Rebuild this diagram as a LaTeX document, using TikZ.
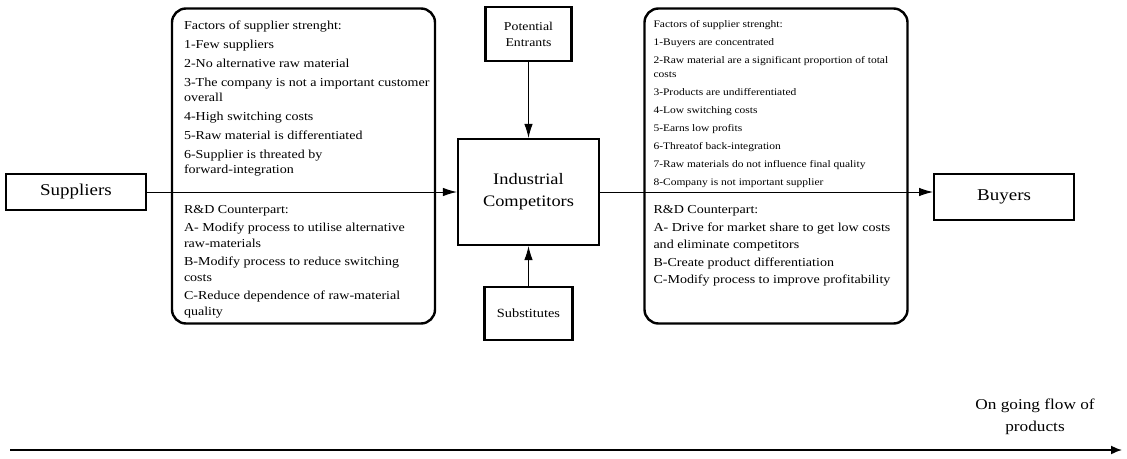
\documentclass[tikz,border=0pt]{standalone}
\usepackage{fontspec}
\setmainfont{Liberation Serif}[FakeStretch=1.15]
\usepackage{tikz}
\usetikzlibrary{arrows.meta, positioning}

\begin{document}
\begin{tikzpicture}[
    force/.style={rectangle, draw, line width=2.1pt, align=center},
    panel/.style={rectangle, draw, line width=2.4pt, rounded corners=14pt, minimum width=263pt, minimum height=315pt},
    listtext/.style={inner sep=0pt, align=left},
    arrow/.style={line width=1pt, -{Latex[length=14pt,width=8.5pt]}}
  ]
  \useasboundingbox (0,0) rectangle (1127pt,-458pt);

  % the five forces
  \node (comp) [force, minimum width=141pt, minimum height=106pt, font=\fontsize{16}{22}\selectfont] at (528.5pt,-192pt) {Industrial\\Competitors};
  \node (pot) [force, minimum width=86pt, minimum height=54pt, font=\fontsize{12}{16}\selectfont, above=76pt of comp] {Potential\\Entrants};
  \node (subs) [force, minimum width=88pt, minimum height=53pt, font=\fontsize{12.5}{15}\selectfont, below=40pt of comp] {Substitutes};
  \node (sup) [force, minimum width=140pt, minimum height=36pt, font=\fontsize{16.5}{20}\selectfont, left=310pt of comp] {Suppliers};
  \node (buy) [force, minimum width=140pt, minimum height=46pt, font=\fontsize{16.5}{20}\selectfont, right=333pt of comp, yshift=-5pt] {Buyers};

  % factor panels
  \node (supbox) [panel] at (303.5pt,-166pt) {};
  \node (buybox) [panel] at (776pt,-166pt) {};

  \node (supstr) [listtext, font=\fontsize{12.2}{15}\selectfont, below right=13pt and 13pt of supbox.north west] {Factors of supplier strenght:\\[4pt]
    1-Few suppliers\\[4pt]
    2-No alternative raw material\\[4pt]
    3-The company is not a important customer\\
    overall\\[4pt]
    4-High switching costs\\[4pt]
    5-Raw material is differentiated\\[4pt]
    6-Supplier is threated by\\
    forward-integration};
  \node (suprd) [listtext, font=\fontsize{12.2}{16}\selectfont, below right=198pt and 13pt of supbox.north west] {R\&D Counterpart:\\[2pt]
    A- Modify process to utilise alternative\\
    raw-materials\\[2pt]
    B-Modify process to reduce switching\\
    costs\\[2pt]
    C-Reduce dependence of raw-material\\
    quality};

  \node (buystr) [listtext, font=\fontsize{10}{14}\selectfont, below right=13pt and 10pt of buybox.north west] {Factors of supplier strenght:\\[4pt]
    1-Buyers are concentrated\\[4pt]
    2-Raw material are a significant proportion of total\\
    costs\\[4pt]
    3-Products are undifferentiated\\[4pt]
    4-Low switching costs\\[4pt]
    5-Earns low profits\\[4pt]
    6-Threatof back-integration\\[4pt]
    7-Raw materials do not influence final quality\\[4pt]
    8-Company is not important supplier};
  \node (buyrd) [listtext, font=\fontsize{12.2}{17.5}\selectfont, below right=198pt and 10pt of buybox.north west] {R\&D Counterpart:\\
    A- Drive for market share to get low costs\\
    and eliminate competitors\\
    B-Create product differentiation\\
    C-Modify process to improve profitability};

  \draw [arrow] (pot) -- (comp);
  \draw [arrow] (subs) -- (comp);
  \draw [arrow] (sup) -- (comp);
  \draw [arrow] (comp.east) -- (comp.east -| buy.west);

  % flow of products
  \coordinate (flowstart) at (10pt,-450pt);
  \coordinate (flowend) at (1122pt,-450pt);
  \node (flow) [align=center, font=\fontsize{15}{22}\selectfont] at (1035pt,-417pt) {On going flow of\\products};
  \draw [line width=1.6pt, -{Latex[length=11pt,width=9pt]}] (flowstart) -- (flowend);
\end{tikzpicture}
\end{document}
